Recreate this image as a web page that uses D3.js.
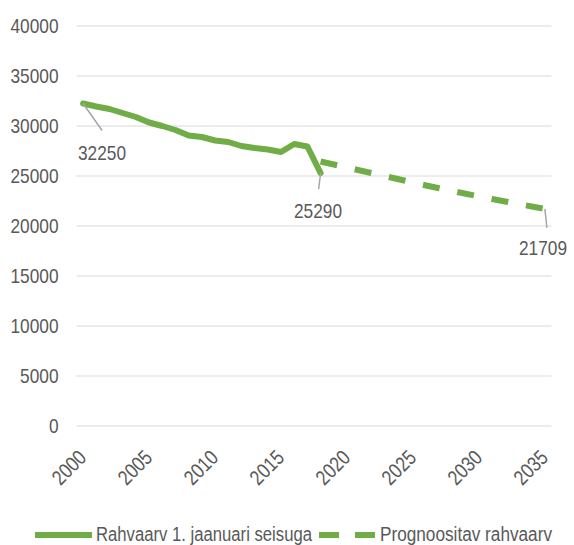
<!DOCTYPE html>
<html><head><meta charset="utf-8">
<script src="https://cdn.jsdelivr.net/npm/d3@7"></script>
<style>body{margin:0;background:#fff;} svg{display:block;}</style>
</head><body>
<svg id="c" width="574" height="545"></svg>
<script>
const years = d3.range(2000, 2036);
const actualYears = d3.range(2000, 2019);
const actualValues = [32250,31950,31700,31300,30900,30350,30000,29600,29050,28900,28550,28400,28000,27800,27650,27400,28200,27950,25290];
const forecastYears = d3.range(2018, 2036);
const forecastValues = [26450,26150,25850,25550,25250,24950,24650,24350,24050,23780,23500,23230,22960,22700,22450,22200,21950,21709];
const yTicks = [0,5000,10000,15000,20000,25000,30000,35000,40000];
const xTickLabels = [2000,2005,2010,2015,2020,2025,2030,2035];
const seriesNames = ["Rahvaarv 1. jaanuari seisuga","Prognoositav rahvaarv"];

(function(){
const svg = d3.select("#c");
const font = "'Liberation Sans','Arial',sans-serif";
const green = "#70AD47", grid = "#d9d9d9", textC = "#595959";
const pL = 76.5, pR = 551.5, pT = 26, pB = 426;
const digitW = 9.6;

const x = d3.scalePoint().domain(years).range([pL, pR]).padding(0.5);
const y = d3.scaleLinear().domain([0, 40000]).range([pB, pT]);

svg.append("g").selectAll("line").data(yTicks).join("line")
  .attr("x1", pL).attr("x2", pR)
  .attr("y1", d => y(d)).attr("y2", d => y(d))
  .attr("stroke", grid).attr("stroke-width", 1.2);

const yAxis = svg.append("g").attr("transform", `translate(${pL},0)`)
  .call(d3.axisLeft(y).tickValues(yTicks).tickSize(0).tickPadding(18).tickFormat(d3.format("d")));
yAxis.select(".domain").remove();
yAxis.selectAll("text").attr("font-family", font).attr("font-size", 21).attr("fill", textC)
  .attr("textLength", d => String(d).length * digitW).attr("lengthAdjust", "spacingAndGlyphs");

const xAxis = svg.append("g").attr("transform", `translate(0,${pB})`)
  .call(d3.axisBottom(x).tickValues(xTickLabels).tickSize(0).tickPadding(0));
xAxis.select(".domain").remove();
xAxis.selectAll("text")
  .attr("font-family", font).attr("font-size", 21).attr("fill", textC)
  .attr("text-anchor", "end").attr("dy", 0)
  .attr("textLength", d => String(d).length * digitW).attr("lengthAdjust", "spacingAndGlyphs")
  .attr("transform", "translate(4,33) rotate(-45)");

const line = d3.line().x(d => x(d[0])).y(d => y(d[1]));

svg.append("path").datum(forecastYears.map((yr,i)=>[yr, forecastValues[i]]))
  .attr("d", line).attr("fill","none").attr("stroke", green).attr("stroke-width", 6)
  .attr("stroke-dasharray", "17 18").attr("stroke-linejoin","round");

svg.append("path").datum(actualYears.map((yr,i)=>[yr, actualValues[i]]))
  .attr("d", line).attr("fill","none").attr("stroke", green).attr("stroke-width", 6)
  .attr("stroke-linejoin","round").attr("stroke-linecap","round");

const labels = [
  {yr: 2000, v: actualValues[0], dx: 19, dy: 27, tx: 102, ty: 160},
  {yr: 2018, v: actualValues[actualValues.length-1], dx: -2, dy: 16, tx: 318, ty: 218},
  {yr: 2035, v: forecastValues[forecastValues.length-1], dx: 2, dy: 19, tx: 543, ty: 255}
];
labels.forEach(l => {
  const px = x(l.yr), py = y(l.v);
  const s = d3.format("d")(l.v);
  svg.append("line").attr("x1", px).attr("y1", py).attr("x2", px + l.dx).attr("y2", py + l.dy)
    .attr("stroke", "#a6a6a6").attr("stroke-width", 1.5);
  svg.append("text").attr("x", l.tx).attr("y", l.ty).attr("text-anchor","middle")
    .attr("font-family", font).attr("font-size", 21).attr("fill", textC)
    .attr("textLength", s.length * digitW).attr("lengthAdjust", "spacingAndGlyphs")
    .text(s);
});

const lg = svg.append("g");
lg.append("line").attr("x1", 35).attr("x2", 92).attr("y1", 535).attr("y2", 535)
  .attr("stroke", green).attr("stroke-width", 6);
lg.append("text").attr("x", 96).attr("y", 541).attr("font-family", font).attr("font-size", 19.5)
  .attr("fill", textC).attr("textLength", 216).attr("lengthAdjust","spacingAndGlyphs").text(seriesNames[0]);
lg.append("line").attr("x1", 319).attr("x2", 375).attr("y1", 535).attr("y2", 535)
  .attr("stroke", green).attr("stroke-width", 6).attr("stroke-dasharray", "20 16");
lg.append("text").attr("x", 380).attr("y", 541).attr("font-family", font).attr("font-size", 19.5)
  .attr("fill", textC).attr("textLength", 172).attr("lengthAdjust","spacingAndGlyphs").text(seriesNames[1]);
})();
</script>
</body></html>
